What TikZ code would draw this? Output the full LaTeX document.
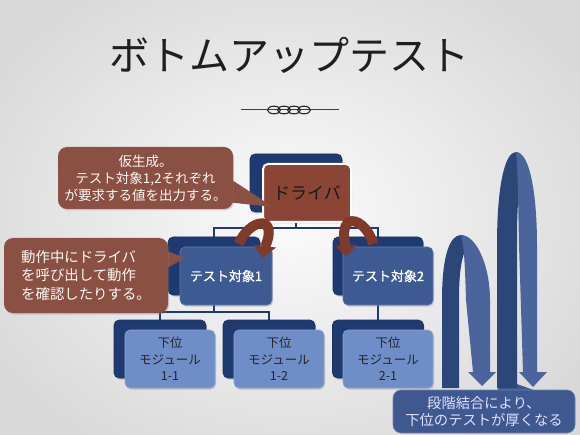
\documentclass[tikz,border=0pt]{standalone}
\usepackage{fontspec}
\newfontfamily\jp{Noto Sans CJK JP}
\newfontfamily\jpb[FakeBold=1.2]{Noto Sans CJK JP}
\usetikzlibrary{arrows.meta,shadows}
\pgfdeclarelayer{back}
\pgfdeclarelayer{bg}
\pgfsetlayers{back,bg,main}
\definecolor{navy}{HTML}{1F3A70}
\definecolor{testF}{HTML}{3E5A92}
\definecolor{modF}{HTML}{6F8DC6}
\definecolor{drvF}{HTML}{8B4535}
\definecolor{callB}{HTML}{8A5044}
\definecolor{arrB}{HTML}{7F3A2A}
\definecolor{archD}{HTML}{2D4678}
\definecolor{archL}{HTML}{4B649B}
\definecolor{botB}{HTML}{3F5890}
\begin{document}
\begin{tikzpicture}[x=1pt,y=-1pt,
  box/.style={rectangle,rounded corners=5pt,inner sep=0pt,minimum height=58pt},
  backbox/.style={box,fill=navy,draw=navy!85!black,line width=0.6pt,
    drop shadow={opacity=0.35,shadow xshift=1pt,shadow yshift=-1.5pt}},
  drvbox/.style={box,fill=drvF,draw=white,line width=2pt,
    drop shadow={opacity=0.35,shadow xshift=1pt,shadow yshift=-1.5pt}},
  testbox/.style={box,fill=testF,draw=testF!80!white,line width=0.6pt,text=white,
    font=\jpb\fontsize{13}{16}\selectfont,
    drop shadow={opacity=0.35,shadow xshift=1pt,shadow yshift=-1.5pt}},
  modbox/.style={box,fill=modF,draw=modF!80!white,line width=0.6pt,text=black!85,align=center,
    font=\jp\fontsize{12.5}{16.5}\selectfont,
    drop shadow={opacity=0.35,shadow xshift=1pt,shadow yshift=-1.5pt}},
  conn/.style={draw=navy,line width=1.8pt},
  brownband/.style={draw=arrB,line width=10pt},
  brownhead/.style={fill=arrB},
  callout/.style={rectangle,rounded corners=9pt,fill=callB,text=white!94!brown,align=center,inner sep=0pt,
    drop shadow={opacity=0.3,shadow xshift=1pt,shadow yshift=-1.5pt}},
]
\useasboundingbox (0,0) rectangle (580,435);
\begin{pgfonlayer}{back}
  \shade[inner color=white!97!gray,outer color=black!15] (-60,-60) rectangle (640,495);
\end{pgfonlayer}

% title
\node[font=\jp\fontsize{40}{48}\selectfont,text=black!88] (title) at (289,55) {ボトムアップテスト};
% ornament
\draw[line width=1pt,black!75] (241,110) -- (339,110);
\foreach \cx in {274,284,294,304}
  \draw[line width=1.1pt,black!85] (\cx,110) ellipse (6.5pt and 3.8pt);

% tree boxes
\node[backbox,minimum width=92pt] (drvB) at (296,183) {};
\node[drvbox,minimum width=88pt,font=\jp\fontsize{17}{20}\selectfont,text=black!90] (drv) at (307,193) {ドライバ};

\node[backbox,minimum width=92pt] (t1B) at (214,266) {};
\node[testbox,minimum width=92pt] (t1) at (226,276) {テスト対象1};
\node[backbox,minimum width=90pt] (t2B) at (378,266) {};
\node[testbox,minimum width=90pt] (t2) at (388,276) {テスト対象2};

\node[backbox,minimum width=92pt] (m11B) at (160,349) {};
\node[modbox,minimum width=90pt] (m11) at (170,359) {下位\\モジュール\\1-1};
\node[backbox,minimum width=92pt] (m12B) at (269,349) {};
\node[modbox,minimum width=90pt] (m12) at (279,359) {下位\\モジュール\\1-2};
\node[backbox,minimum width=91pt] (m21B) at (378,349) {};
\node[modbox,minimum width=90pt] (m21) at (388,359) {下位\\モジュール\\2-1};

% connectors
\coordinate (bus1) at (296,228);
\coordinate (bus2) at (214,312);
\begin{pgfonlayer}{bg}
  \draw[conn] (drvB.south) -- (bus1) -| (t1B.north);
  \draw[conn] (bus1) -| (t2B.north);
  \draw[conn] (t1B.south) -- (bus2) -| (m11B.north);
  \draw[conn] (bus2) -| (m12B.north);
  \draw[conn] (t2B.south) -- (m21B.north);
\end{pgfonlayer}

% brown curved arrows
\draw[brownband] (239,244) .. controls (245,228) and (259,221) .. (265,224) .. controls (271,228) and (269,238) .. (265,247);
\fill[brownhead] (253.5,245) -- (276,247.5) -- (263,258) -- cycle;
\draw[brownband] (373,244) .. controls (369,228) and (356,218) .. (349,222) .. controls (343,226) and (343,237) .. (346,247);
\fill[brownhead] (335.5,246) -- (357,245) -- (346,256.5) -- cycle;

% callout 1
\fill[callB] (226,176) -- (273,207) -- (226,202) -- cycle;
\node[callout,minimum width=175pt,minimum height=62pt,font=\jp\fontsize{13.5}{17}\selectfont] (c1) at (145.5,178)
  {仮生成。\\テスト対象1,2それぞれ\\が要求する値を出力する。};
% callout 2
\fill[callB] (160,248) -- (185,258) -- (160,272) -- cycle;
\node[callout,minimum width=164pt,minimum height=75pt,align=left,font=\jp\fontsize{14.4}{18.5}\selectfont] (c2) at (86,275.5)
  {動作中にドライバ\\を呼び出して動作\\を確認したりする。};

% bottom callout
\fill[botB] (497,393) -- (500,378) -- (542,393) -- cycle;
\node[rectangle,rounded corners=8pt,fill=botB,draw=botB!75!white,line width=0.6pt,minimum width=182pt,minimum height=43pt,
  inner sep=0pt,align=center,text=white!88!blue,font=\jp\fontsize{14.3}{17.5}\selectfont] (note) at (484,411.5)
  {段階結合により、\\下位のテストが厚くなる};

% small arch
\fill[archD] (442,388) -- (442,300) .. controls (442,255) and (450,235) .. (461,235) .. controls (465,235) and (467,240) .. (468,246) .. controls (461,255) and (459,275) .. (459,300) -- (459,388) -- cycle;
\fill[archL] (461,235) .. controls (476,235) and (490,265) .. (490,300) -- (490,372) -- (496,372) -- (482,386) -- (468,372) -- (473,372) -- (466,300) .. controls (465,265) and (464,245) .. (461,235) -- cycle;
% big arch
\fill[archD] (497,388) -- (497,245) .. controls (497,185) and (505,152) .. (516,152) .. controls (520,152) and (523,160) .. (524,170) .. controls (518,185) and (517,210) .. (517,245) -- (517,388) -- cycle;
\fill[archL] (516,152) .. controls (530,152) and (537,195) .. (537,245) -- (537,372) -- (547,372) -- (533,387) -- (519,372) -- (523,372) -- (519,245) .. controls (518,200) and (518,170) .. (516,152) -- cycle;
\end{tikzpicture}
\end{document}
